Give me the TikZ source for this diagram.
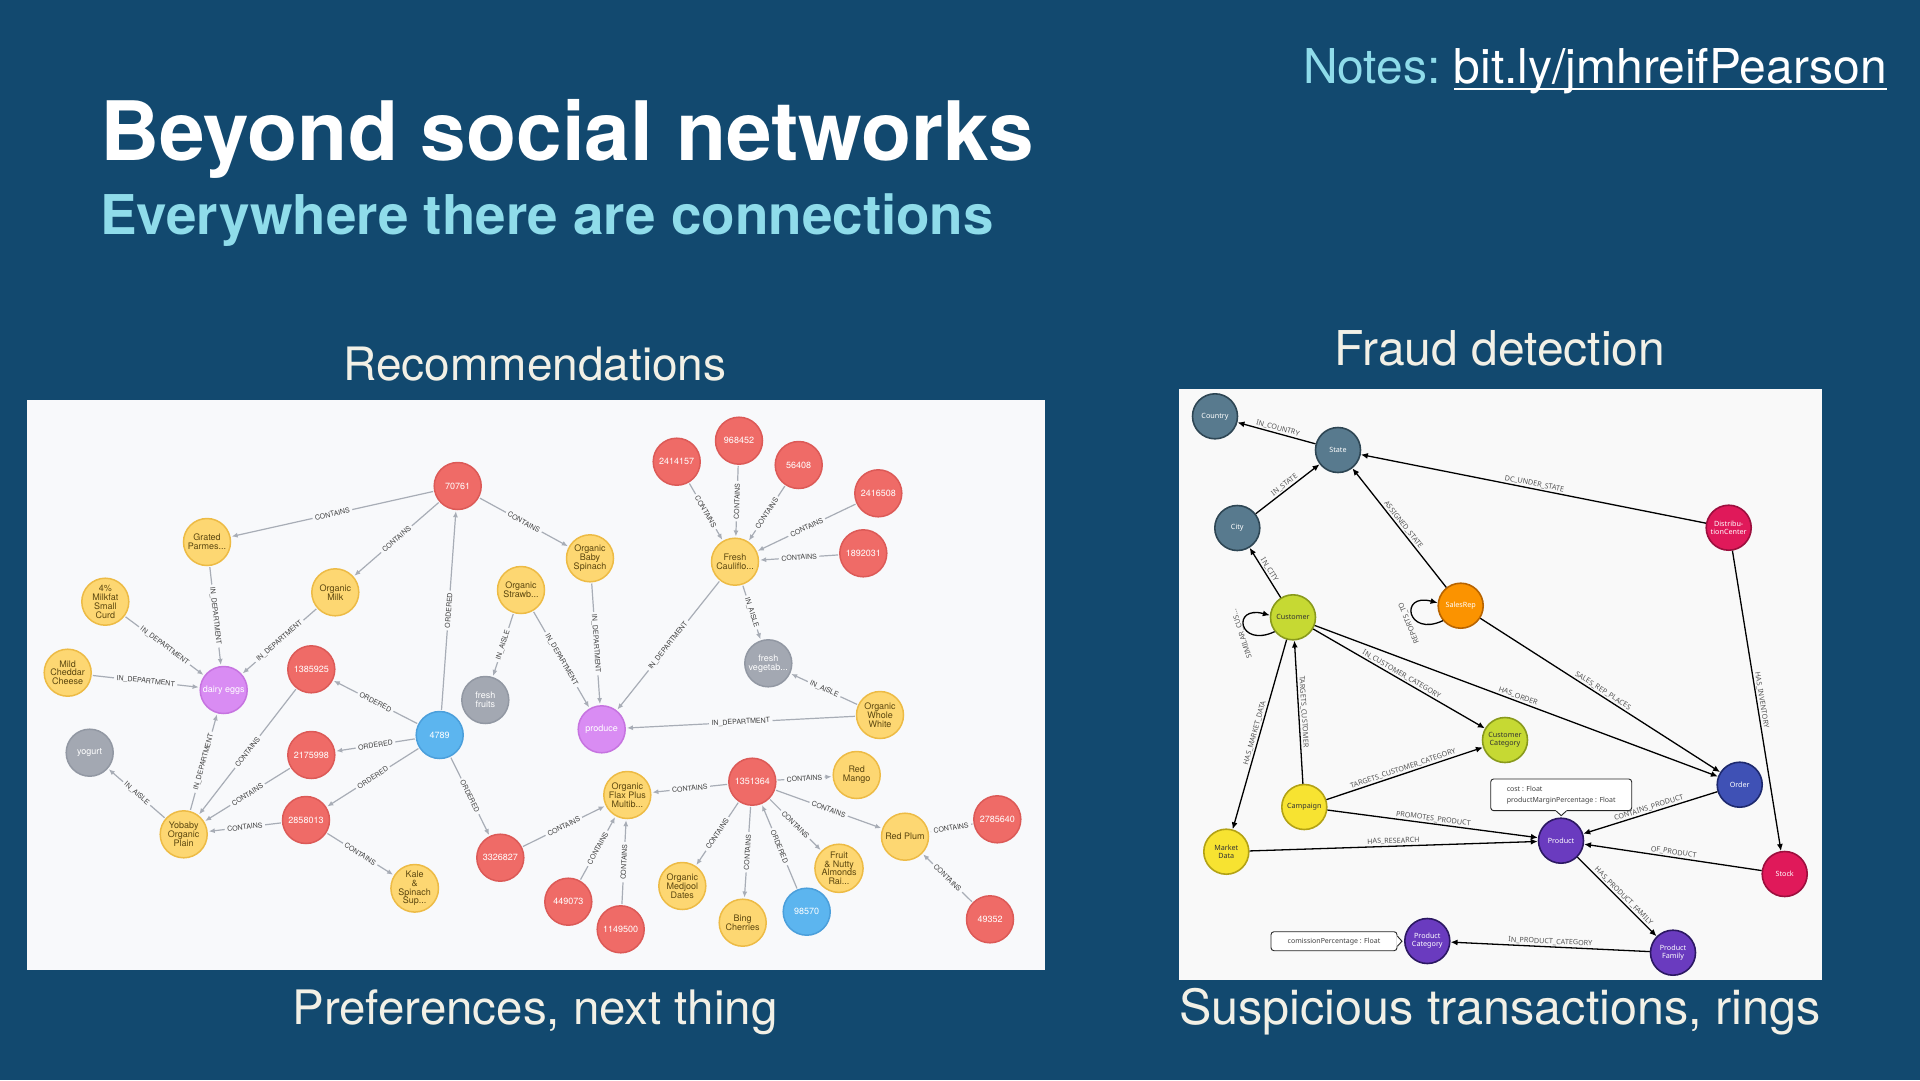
\documentclass[tikz,border=0pt]{standalone}
\usepackage{fontspec}
\setmainfont{TeX Gyre Heros}
\newfontfamily\rfont{Noto Sans}
\usetikzlibrary{arrows.meta}

\definecolor{bgblue}{HTML}{12496F}
\definecolor{subcyan}{HTML}{8FDCEA}
\definecolor{cream}{HTML}{F2F0E6}
\definecolor{panelbg}{HTML}{F8F9FB}
\definecolor{rpanelbg}{HTML}{F9F9F9}
\definecolor{nred}{HTML}{EF6B67}
\definecolor{nredb}{HTML}{DC5A57}
\definecolor{nyel}{HTML}{FDD772}
\definecolor{nyelb}{HTML}{EDBB45}
\definecolor{ngrey}{HTML}{A3A8B2}
\definecolor{ngreyb}{HTML}{9298A3}
\definecolor{npurp}{HTML}{D98CF3}
\definecolor{npurpb}{HTML}{C674E0}
\definecolor{nblue}{HTML}{5CB5EF}
\definecolor{nblueb}{HTML}{4B9FDB}
\definecolor{ytext}{HTML}{5C470F}
\definecolor{edgegrey}{HTML}{A8ADB6}
\definecolor{slate}{HTML}{587A8E}
\definecolor{slateb}{HTML}{2E4654}
\definecolor{lime}{HTML}{C6D933}
\definecolor{limeb}{HTML}{899A1C}
\definecolor{orng}{HTML}{FB9300}
\definecolor{orngb}{HTML}{B86400}
\definecolor{crim}{HTML}{E0195A}
\definecolor{crimb}{HTML}{9C0F3E}
\definecolor{ylw}{HTML}{F7E331}
\definecolor{ylwb}{HTML}{B3A214}
\definecolor{purp}{HTML}{6A3BBF}
\definecolor{purpb}{HTML}{2C1863}
\definecolor{indig}{HTML}{3F51B5}
\definecolor{indigb}{HTML}{1D296E}
\definecolor{rtext}{HTML}{555555}

\tikzset{
  ln/.style={circle, minimum size=47pt, inner sep=0pt, line width=1.5pt,
    font=\fontsize{9}{8.8}\selectfont, align=center},
  lred/.style={ln, fill=nred, draw=nredb, text=white},
  lyel/.style={ln, fill=nyel, draw=nyelb, text=ytext},
  lgrey/.style={ln, fill=ngrey, draw=ngreyb, text=white},
  lpurp/.style={ln, fill=npurp, draw=npurpb, text=white},
  lblue/.style={ln, fill=nblue, draw=nblueb, text=white},
  le/.style={draw=edgegrey, line width=1.2pt, -{Latex[length=6pt,width=5pt]}, shorten >=1pt, shorten <=1pt},
  elab/.style={sloped, fill=panelbg, inner xsep=2.5pt, inner ysep=1pt,
    font=\fontsize{7}{7}\selectfont, text=black!75},
  rn/.style={circle, minimum size=45pt, inner sep=0pt, line width=1.6pt,
    font=\rfont\fontsize{7.2}{8}\selectfont, align=center},
  rslate/.style={rn, fill=slate, draw=slateb, text=white},
  rlime/.style={rn, fill=lime, draw=limeb, text=black!80},
  rorng/.style={rn, fill=orng, draw=orngb, text=white},
  rcrim/.style={rn, fill=crim, draw=crimb, text=white},
  rylw/.style={rn, fill=ylw, draw=ylwb, text=black!80},
  rpurp/.style={rn, fill=purp, draw=purpb, text=white},
  rindig/.style={rn, fill=indig, draw=indigb, text=white},
  re/.style={draw=black, line width=1.3pt, -{Latex[length=7pt,width=6pt]}},
  rlab/.style={sloped, above, inner sep=1.2pt, font=\rfont\fontsize{7.2}{7.2}\selectfont, text=rtext},
  cbox/.style={draw=black!85, fill=white, rounded corners=3pt, line width=0.9pt,
    font=\rfont\fontsize{7}{11}\selectfont, text=black!75, align=left},
  cbline/.style={draw=black!85, line width=0.9pt},
}

\begin{document}
\begin{tikzpicture}[x=1pt,y=-1pt]
\useasboundingbox (0,0) rectangle (1920,1080);
\fill[bgblue] (0,0) rectangle (1920,1080);

% ---------- headings ----------
\node[anchor=base west, inner sep=0pt, text=white, font=\bfseries\fontsize{82}{90}\selectfont] (title) at (100,160) {Beyond social networks};
\node[anchor=base west, inner sep=0pt, text=subcyan, font=\bfseries\fontsize{54.8}{60}\selectfont] (subtitle) at (100,234) {Everywhere there are connections};
\node[anchor=base east, inner sep=0pt, text=white, font=\fontsize{48}{52}\selectfont] (link) at (1887,83) {bit.ly/jmhreifPearson};
\node[anchor=base east, inner sep=0pt, text=subcyan, font=\fontsize{48}{52}\selectfont] (notes) at ([xshift=-13pt]link.base west) {Notes:};
\draw[white, line width=2.2pt] ([yshift=-6pt]link.base west) -- ([yshift=-6pt]link.base east);

\node[anchor=base, inner sep=0pt, text=cream, font=\fontsize{46}{50}\selectfont] (rec) at (535,380) {Recommendations};
\node[anchor=base, inner sep=0pt, text=cream, font=\fontsize{48}{52}\selectfont] (fraud) at (1500,365) {Fraud detection};
\node[anchor=base, inner sep=0pt, text=cream, font=\fontsize{47.5}{52}\selectfont] (pref) at (535,1024) {Preferences, next thing};
\node[anchor=base, inner sep=0pt, text=cream, font=\fontsize{48.5}{52}\selectfont] (susp) at (1500,1024) {Suspicious transactions, rings};

% ---------- panels ----------
\fill[panelbg] (27,400) rectangle (1045,970);
\fill[rpanelbg] (1179,389) rectangle (1822,980);

% ---------- left graph nodes ----------
\node[lred] (n70761) at (457.7,486) {70761};
\node[lyel] (grated) at (207,542) {Grated\\Parmes...};
\node[lyel] (omilk) at (335.3,592.3) {Organic\\Milk};
\node[lyel] (milkfat) at (105.3,601.7) {4\%\\Milkfat\\Small\\Curd};
\node[lyel] (cheddar) at (67.7,672.7) {Mild\\Cheddar\\Cheese};
\node[lpurp] (dairy) at (223.7,690) {dairy eggs};
\node[lred] (n1385925) at (311.3,669.3) {1385925};
\node[lyel] (strawb) at (521,590) {Organic\\Strawb...};
\node[lgrey] (ffruits) at (485.3,700) {fresh\\fruits};
\node[lred] (n2414157) at (676.7,461.7) {2414157};
\node[lred] (n968452) at (739,440.7) {968452};
\node[lred] (n56408) at (798.7,465) {56408};
\node[lred] (n2416508) at (878.3,493.3) {2416508};
\node[lred] (n1892031) at (863.3,553.3) {1892031};
\node[lyel] (caul) at (735,561.7) {Fresh\\Cauliflo...};
\node[lyel] (spinach) at (590,558.3) {Organic\\Baby\\Spinach};
\node[lgrey] (fveg) at (768.3,663.3) {fresh\\vegetab...};
\node[lgrey] (yogurt) at (89.7,752.7) {yogurt};
\node[lblue] (n4789) at (439.7,735) {4789};
\node[lred] (n2175998) at (311.3,755) {2175998};
\node[lred] (n2858013) at (306,820) {2858013};
\node[lyel] (yobaby) at (183.7,834.3) {Yobaby\\Organic\\Plain};
\node[lyel] (kale) at (414.7,888.3) {Kale\\\&\\Spinach\\Sup...};
\node[lred] (n3326827) at (500.3,857.7) {3326827};
\node[lpurp] (produce) at (601.7,729.3) {produce};
\node[lyel] (owhite) at (880,715) {Organic\\Whole\\White};
\node[lred] (n1351364) at (752.3,781.7) {1351364};
\node[lyel] (mango) at (856.7,775) {Red\\Mango};
\node[lyel] (flax) at (627.3,795) {Organic\\Flax Plus\\Multib...};
\node[lyel] (plum) at (905,836.7) {Red Plum};
\node[lred] (n2785640) at (997.3,819.3) {2785640};
\node[lred] (n49352) at (990,919.3) {49352};
\node[lred] (n449073) at (568.3,901.7) {449073};
\node[lred] (n1149500) at (620.7,929.3) {1149500};
\node[lyel] (medjool) at (682.3,886) {Organic\\Medjool\\Dates};
\node[lyel] (bing) at (742.7,922.7) {Bing\\Cherries};
\node[lblue] (n98570) at (806.7,911.7) {98570};
\node[lyel] (fruitnut) at (839,868.3) {Fruit\\\& Nutty\\Almonds\\Rai...};

% ---------- left graph edges ----------
\draw[le] (n70761) -- node[elab]{CONTAINS} (grated);
\draw[le] (n70761) -- node[elab]{CONTAINS} (omilk);
\draw[le] (n70761) -- node[elab]{CONTAINS} (spinach);
\draw[le] (n4789) -- node[elab]{ORDERED} (n70761);
\draw[le] (grated) -- node[elab]{IN\_DEPARTMENT} (dairy);
\draw[le] (omilk) -- node[elab]{IN\_DEPARTMENT} (dairy);
\draw[le] (milkfat) -- node[elab]{IN\_DEPARTMENT} (dairy);
\draw[le] (cheddar) -- node[elab]{IN\_DEPARTMENT} (dairy);
\draw[le] (strawb) -- node[elab]{IN\_AISLE} (ffruits);
\draw[le] (strawb) -- node[elab]{IN\_DEPARTMENT} (produce);
\draw[le] (n4789) -- node[elab]{ORDERED} (n1385925);
\draw[le] (n1385925) -- node[elab]{CONTAINS} (yobaby);
\draw[le] (n2414157) -- node[elab]{CONTAINS} (caul);
\draw[le] (n968452) -- node[elab]{CONTAINS} (caul);
\draw[le] (n56408) -- node[elab]{CONTAINS} (caul);
\draw[le] (n2416508) -- node[elab]{CONTAINS} (caul);
\draw[le] (n1892031) -- node[elab]{CONTAINS} (caul);
\draw[le] (caul) -- node[elab]{IN\_AISLE} (fveg);
\draw[le] (caul) -- node[elab]{IN\_DEPARTMENT} (produce);
\draw[le] (spinach) -- node[elab]{IN\_DEPARTMENT} (produce);
\draw[le] (owhite) -- node[elab]{IN\_AISLE} (fveg);
\draw[le] (owhite) -- node[elab]{IN\_DEPARTMENT} (produce);
\draw[le] (yobaby) -- node[elab]{IN\_AISLE} (yogurt);
\draw[le] (yobaby) -- node[elab]{IN\_DEPARTMENT} (dairy);
\draw[le] (n4789) -- node[elab]{ORDERED} (n2175998);
\draw[le] (n4789) -- node[elab]{ORDERED} (n2858013);
\draw[le] (n2175998) -- node[elab]{CONTAINS} (yobaby);
\draw[le] (n2858013) -- node[elab]{CONTAINS} (yobaby);
\draw[le] (n2858013) -- node[elab]{CONTAINS} (kale);
\draw[le] (n4789) -- node[elab]{ORDERED} (n3326827);
\draw[le] (n3326827) -- node[elab]{CONTAINS} (flax);
\draw[le] (n1351364) -- node[elab]{CONTAINS} (flax);
\draw[le] (n1351364) -- node[elab]{CONTAINS} (mango);
\draw[le] (n1351364) -- node[elab]{CONTAINS} (plum);
\draw[le] (n1351364) -- node[elab]{CONTAINS} (medjool);
\draw[le] (n1351364) -- node[elab]{CONTAINS} (bing);
\draw[le] (n98570) -- node[elab]{ORDERED} (n1351364);
\draw[le] (n1351364) -- node[elab]{CONTAINS} (fruitnut);
\draw[le] (n449073) -- node[elab]{CONTAINS} (flax);
\draw[le] (n1149500) -- node[elab]{CONTAINS} (flax);
\draw[le] (n2785640) -- node[elab]{CONTAINS} (plum);
\draw[le] (n49352) -- node[elab]{CONTAINS} (plum);

% ---------- right graph nodes ----------
\node[rslate] (country) at (1215,416.3) {Country};
\node[rslate] (state) at (1338,450) {State};
\node[rslate] (city) at (1237.3,528) {City};
\node[rlime] (cust) at (1293,617.3) {Customer};
\node[rorng] (srep) at (1460.7,605.7) {SalesRep};
\node[rcrim] (dc) at (1728.7,527.7) {Distribu-\\tionCenter};
\node[rylw] (camp) at (1304.3,807) {Campaign};
\node[rylw] (mdata) at (1226.3,851.7) {Market\\Data};
\node[rlime] (ccat) at (1505,740) {Customer\\Category};
\node[rpurp] (pcat) at (1427.3,941) {Product\\Category};
\node[rindig] (order) at (1739.7,784.7) {Order};
\node[rpurp] (prod) at (1561,840.7) {Product};
\node[rcrim] (stock) at (1784.7,874) {Stock};
\node[rpurp] (pfam) at (1673,952.7) {Product\\Family};

% ---------- right graph edges ----------
\draw[re] (state) -- node[rlab]{IN\_COUNTRY} (country);
\draw[re] (city) -- node[rlab]{IN\_STATE} (state);
\draw[re] (cust) -- node[rlab]{IN\_CITY} (city);
\draw[re] (srep) -- node[rlab]{ASSIGNED\_STATE} (state);
\draw[re] (dc) -- node[rlab]{DC\_UNDER\_STATE} (state);
\draw[re] (dc) -- node[rlab]{HAS\_INVENTORY} (stock);
\draw[re] (srep) -- node[rlab]{SALES\_REP\_PLACES} (order);
\draw[re] (cust) -- node[rlab]{HAS\_ORDER} (order);
\draw[re] (cust) -- node[rlab]{IN\_CUSTOMER\_CATEGORY} (ccat);
\draw[re] (cust) -- node[rlab]{HAS\_MARKET\_DATA} (mdata);
\draw[re] (camp) -- node[rlab]{TARGETS\_CUSTOMER} (cust);
\draw[re] (camp) -- node[rlab]{TARGETS\_CUSTOMER\_CATEGORY} (ccat);
\draw[re] (camp) -- node[rlab]{PROMOTES\_PRODUCT} (prod);
\draw[re] (mdata) -- node[rlab]{HAS\_RESEARCH} (prod);
\draw[re] (order) -- node[rlab]{CONTAINS\_PRODUCT} (prod);
\draw[re] (stock) -- node[rlab]{OF\_PRODUCT} (prod);
\draw[re] (prod) -- node[rlab, pos=0.54]{HAS\_PRODUCT\_FAMILY} (pfam);
\draw[re] (pfam) -- node[rlab]{IN\_PRODUCT\_CATEGORY} (pcat);

% self loops
\draw[re] (cust.218) .. controls +(205:40pt) and +(165:40pt) .. (cust.175);
\node[rotate=108, inner sep=0pt, font=\rfont\fontsize{7.2}{7.2}\selectfont, text=rtext] (simlab) at (1242,634) {SIMILAR\_CUS...};
\draw[re] (srep.220) .. controls +(205:40pt) and +(165:40pt) .. (srep.173);
\node[rotate=112, inner sep=0pt, font=\rfont\fontsize{7.2}{7.2}\selectfont, text=rtext] (replab) at (1409,623) {REPORTS\_TO};

% callouts
\node[cbox, minimum width=126pt, minimum height=19pt, inner xsep=5pt] (combox) at (1334,941.2) {comissionPercentage : Float};
\path[fill=white] ([yshift=5pt,xshift=-1pt]combox.east) -- ++(5.5pt,-5pt) -- ++(-5.5pt,-5pt) -- cycle;
\draw[cbline] ([yshift=5pt]combox.east) -- ++(4.5pt,-5pt) -- ++(-4.5pt,-5pt);

\node[cbox, minimum width=141pt, minimum height=31.7pt, inner xsep=5pt] (costbox) at (1561.2,794.8) {cost : Float\\productMarginPercentage : Float};
\path[fill=white] ([xshift=-5.5pt,yshift=1pt]costbox.south) -- ++(5.5pt,-5pt) -- ++(5.5pt,5pt) -- cycle;
\draw[cbline] ([xshift=-5pt]costbox.south) -- ++(5pt,-4.5pt) -- ++(5pt,4.5pt);
\end{tikzpicture}
\end{document}
